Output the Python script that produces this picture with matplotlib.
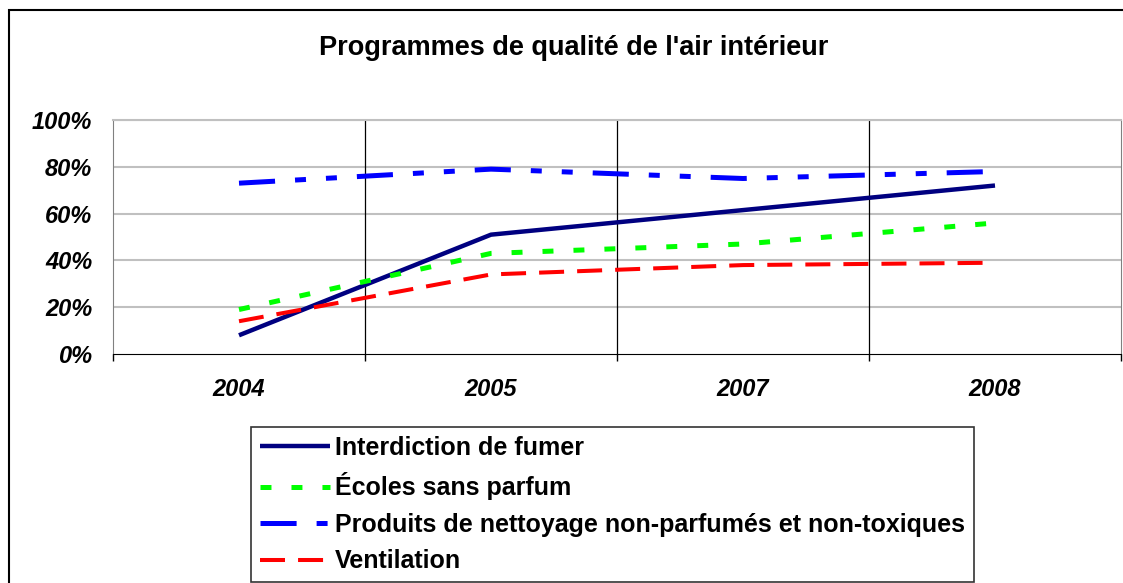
import matplotlib
matplotlib.use("Agg")
import matplotlib.pyplot as plt
from matplotlib.patches import Rectangle

plt.rcParams['font.family'] = ['Liberation Sans', 'DejaVu Sans']
plt.rcParams['lines.scale_dashes'] = False

years = ['2004', '2005', '2007', '2008']
fumer = [8, 51, 61.5, 72]
ecoles = [19, 43, 47, 56]
produits = [73, 79, 75, 78]
ventilation = [14, 34, 38, 39]

series = [
    ("Interdiction de fumer", fumer, '#000080', 3.2, (0, ())),
    ("Écoles sans parfum", ecoles, '#00ff00', 3.6, (0, (7.9, 14.4))),
    ("Produits de nettoyage non-parfumés et non-toxiques", produits, '#0000ff', 3.6,
     (0, (26, 14.4, 7.9, 14.4, 7.9, 14.4))),
    ("Ventilation", ventilation, '#ff0000', 2.9, (0, (18, 9.4))),
]

fig = plt.figure(figsize=(11.23, 5.83), dpi=100)
ax = fig.add_axes([113/1123, 1-354/583, (1121-113)/1123, (354-120)/583])

x = [i + 0.5 for i in range(len(years))]
handles = []
for name, vals, col, lw, ls in series:
    h, = ax.plot(x, vals, color=col, lw=lw, linestyle=ls, label=name,
                 solid_capstyle='round', dash_capstyle='butt', zorder=3)
    handles.append(h)

ax.set_xlim(0, 4)
ax.set_ylim(0, 100)
ax.set_yticks(range(0, 101, 20))
ax.set_yticklabels([f"{v}%" for v in range(0, 101, 20)],
                   fontsize=17, fontweight='bold', fontstyle='italic')
ax.tick_params(axis='y', length=0, pad=15)
for v in range(20, 101, 20):
    ax.axhline(v, color='#c0c0c0', lw=1.5, zorder=1)
for v in [1, 2, 3]:
    ax.axvline(v, color='black', lw=0.9, zorder=1)

ax.set_xticks(range(0, 5))
ax.set_xticklabels([])
ax.tick_params(axis='x', which='major', length=5, width=1, direction='out')
ax.set_xticks(x, minor=True)
ax.set_xticklabels(years, minor=True, fontsize=17, fontweight='bold', fontstyle='italic')
ax.tick_params(axis='x', which='minor', length=0, pad=17)

ax.spines['left'].set_color('#808080')
ax.spines['right'].set_color('#808080')
ax.spines['top'].set_color('#c0c0c0')
ax.spines['top'].set_linewidth(1.5)
ax.spines['bottom'].set_color('black')

fig.text(574/1123, 1-48/583, "Programmes de qualité de l'air intérieur",
         ha='center', va='center', fontsize=19.5, fontweight='bold')

leg = fig.legend(handles=handles, loc='lower left',
                 bbox_to_anchor=(251/1123, 1/583), prop={'size': 18, 'weight': 'bold'},
                 frameon=True, fancybox=False, edgecolor='black', handlelength=2.8,
                 handletextpad=0.2, labelspacing=0.5, borderpad=0.35, borderaxespad=0)
leg.get_frame().set_linewidth(1.2)

fig.add_artist(Rectangle((9/1123, -0.05), 1.2, 1-10/583+0.05,
                         transform=fig.transFigure, fill=False, ec='black', lw=1.5))

fig.savefig("out.png", dpi=100)
